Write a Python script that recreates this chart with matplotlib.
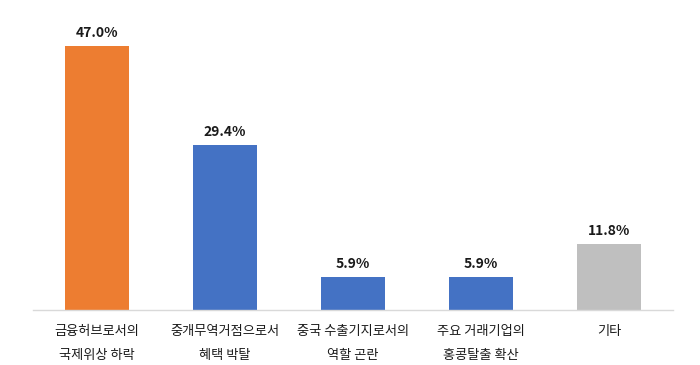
import matplotlib
matplotlib.use("Agg")
import matplotlib.pyplot as plt

plt.rcParams['font.family'] = ['Noto Sans CJK KR', 'DejaVu Sans']

categories = ["금융허브로서의\n국제위상 하락", "중개무역거점으로서\n혜택 박탈", "중국 수출기지로서의\n역할 곤란",
              "주요 거래기업의\n홍콩탈출 확산", "기타"]
values = [47.0, 29.4, 5.9, 5.9, 11.8]
labels = ["47.0%", "29.4%", "5.9%", "5.9%", "11.8%"]
colors = ["#ED7D31", "#4472C4", "#4472C4", "#4472C4", "#BFBFBF"]

fig = plt.figure(figsize=(7, 3.65), dpi=100)
ax = fig.add_axes([33/700, 55/365, 640/700, 290/365])
x = list(range(len(values)))
bars = ax.bar(x, values, width=0.5, color=colors)
ax.set_xlim(-0.5, 4.5)
ax.set_ylim(0, 51.6)
for b, lab in zip(bars, labels):
    ax.annotate(lab, (b.get_x() + b.get_width()/2, b.get_height()), xytext=(0, 4),
                textcoords="offset points", ha="center", va="bottom",
                fontsize=10, fontweight="bold", color="#1a1a1a")
ax.set_xticks(x)
ax.set_xticklabels(categories, fontsize=9.5, color="#1a1a1a", linespacing=2.1,
                   fontweight="medium")
ax.tick_params(axis='x', length=0, pad=11)
ax.set_yticks([])
for s in ["top", "right", "left"]:
    ax.spines[s].set_visible(False)
ax.spines["bottom"].set_color("#D9D9D9")
ax.spines["bottom"].set_linewidth(1)
fig.savefig("out.png", dpi=100)
